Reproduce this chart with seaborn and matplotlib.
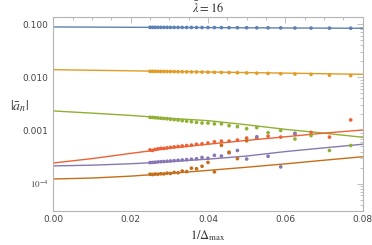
import numpy as np
import pandas as pd
import matplotlib
matplotlib.use("Agg")
import matplotlib.pyplot as plt
import matplotlib.ticker as mticker
import seaborn as sns

# 1/Delta_max for Delta_max = 40 ... 13
delta_max = [40, 39, 38, 37, 36, 35, 34, 33, 32, 31, 30, 29, 28, 27, 26,
             25, 24, 23, 22, 21, 20, 19, 18, 17, 16, 15, 14, 13]

nan = np.nan
a1_pts = [0.0875, 0.0875, 0.0874, 0.0874, 0.0874, 0.0873, 0.0873, 0.0872, 0.0872, 0.0871,
          0.0871, 0.0870, 0.0870, 0.0869, 0.0868, 0.0867, 0.0866, 0.0865, 0.0864, 0.0862,
          0.0860, 0.0858, 0.0856, 0.0854, 0.0851, 0.0848, 0.0845, 0.0842]
a2_pts = [0.01300, 0.01298, 0.01296, 0.01294, 0.01292, 0.01290, 0.01287, 0.01284, 0.01281, 0.01278,
          0.01274, 0.01270, 0.01266, 0.01262, 0.01257, 0.01251, 0.01245, 0.01238, 0.01230, 0.01222,
          0.01212, 0.01200, 0.01187, 0.01172, 0.01155, 0.01138, 0.01100, 0.01080]
a3_pts = [0.00177, 0.00176, 0.00174, 0.00172, 0.00170, 0.00168, 0.00166, 0.00163, 0.00160, 0.00157,
          0.00153, 0.00150, 0.00146, 0.00142, 0.00138, 0.00138, 0.00133, 0.00133, 0.00123, 0.00118,
          0.00108, 0.00113, 0.00091, 0.00100, 0.00069, 0.00080, 0.00042, 0.00052]
a4_pts = [0.00043, 0.00042, 0.00044, 0.00045, 0.00046, 0.00046, 0.00047, 0.00048, 0.00049, 0.00050,
          0.00051, 0.00052, 0.00053, 0.00055, 0.00056, 0.00058, 0.00061, 0.00063, 0.00063, 0.00066,
          0.00072, 0.00072, 0.00078, 0.00075, 0.00086, 0.00092, 0.00075, 0.00158]
a5_pts = [0.000248, 0.000250, 0.000252, 0.000255, 0.000258, 0.000260, 0.000263, 0.000266, 0.000270, 0.000274,
          0.000278, 0.000282, 0.000287, 0.000293, 0.000310, 0.000300, 0.000340, 0.000330, 0.000380, 0.000420,
          0.000290, 0.000760, 0.000326, 0.000206, 0.000885, nan, nan, nan]
a6_pts = [0.000150, 0.000148, 0.000151, 0.000150, 0.000153, 0.000152, 0.000157, 0.000155, 0.000162, 0.000160,
          0.000172, 0.000168, 0.000195, 0.000190, 0.000212, 0.000250, 0.000166, 0.000525, 0.000390, 0.000295,
          0.000640, nan, nan, nan, nan, nan, nan, nan]

# fitted curves read at x = 0, 0.01, ..., 0.08
fit_x = [0.0, 0.01, 0.02, 0.03, 0.04, 0.05, 0.06, 0.07, 0.08]
a1_fit = [0.0890, 0.0884, 0.0877, 0.0871, 0.0865, 0.0858, 0.0852, 0.0846, 0.0840]
a2_fit = [0.01396, 0.01361, 0.01328, 0.01295, 0.01263, 0.01231, 0.01201, 0.01171, 0.01142]
a3_fit = [0.00233, 0.00212, 0.00192, 0.00170, 0.00153, 0.00128, 0.00105, 0.00089, 0.000745]
a4_fit = [0.000244, 0.000295, 0.00037, 0.00046, 0.00055, 0.00065, 0.00076, 0.00089, 0.00102]
a5_fit = [0.000215, 0.000222, 0.000236, 0.000258, 0.000288, 0.00033, 0.00040, 0.00047, 0.00055]
a6_fit = [0.000122, 0.000127, 0.000138, 0.000155, 0.000177, 0.000203, 0.000235, 0.000275, 0.00032]

names = ["n1", "n2", "n3", "n4", "n5", "n6"]
colors = ["#5E81B5", "#E19C24", "#8FB032", "#EB6235", "#8778B3", "#C56E1A"]
all_pts = [a1_pts, a2_pts, a3_pts, a4_pts, a5_pts, a6_pts]
all_fit = [a1_fit, a2_fit, a3_fit, a4_fit, a5_fit, a6_fit]

inv_delta = [1.0 / d for d in delta_max]
pts = pd.concat([pd.DataFrame({"x": inv_delta, "y": p, "n": nm})
                 for p, nm in zip(all_pts, names)]).dropna()
fits = pd.concat([pd.DataFrame({"x": fit_x, "y": f, "n": nm})
                  for f, nm in zip(all_fit, names)])
palette = dict(zip(names, colors))

sns.set_style("white")
plt.rcParams["mathtext.fontset"] = "stix"
fig = plt.figure(figsize=(3.72, 2.45), dpi=100)
ax = fig.add_axes([0.1434, 0.139, 0.8313, 0.7916])

sns.lineplot(data=fits, x="x", y="y", hue="n", palette=palette, ax=ax,
             linewidth=1.0, legend=False, sort=True)
sns.scatterplot(data=pts, x="x", y="y", hue="n", palette=palette, ax=ax,
                s=7, linewidth=0, legend=False, zorder=3)

ax.set_yscale("log")
ax.set_xlim(0, 0.08)
ax.set_ylim(3.05e-5, 0.137)

frame_col = "#b4b4b4"
for sp in ax.spines.values():
    sp.set_color(frame_col)
    sp.set_linewidth(0.8)

ax.xaxis.set_major_locator(mticker.FixedLocator([0, 0.02, 0.04, 0.06, 0.08]))
ax.xaxis.set_minor_locator(mticker.MultipleLocator(0.005))
ax.xaxis.set_major_formatter(mticker.FixedFormatter(["0.00", "0.02", "0.04", "0.06", "0.08"]))
ax.yaxis.set_major_locator(mticker.FixedLocator([1e-4, 1e-3, 1e-2, 1e-1]))
ax.yaxis.set_major_formatter(mticker.FixedFormatter(["$10^{-4}$", "0.001", "0.010", "0.100"]))
ax.yaxis.set_minor_locator(mticker.LogLocator(base=10, subs=np.arange(2, 10)))
ax.yaxis.set_minor_formatter(mticker.NullFormatter())

ax.tick_params(which="both", direction="in", top=True, right=True, color=frame_col,
               labelsize=6.5, labelcolor="#444444", width=0.6)
ax.tick_params(which="major", length=4)
ax.tick_params(which="minor", length=2)
ax.tick_params(axis="x", pad=3)

ax.set_xlabel(r"$1/\Delta_{\max}$", fontsize=9, color="#333333", labelpad=3)
ax.set_ylabel(r"$|\bar{a}_n|$", fontsize=10, color="#333333", rotation=0, labelpad=10)
ax.yaxis.set_label_coords(-0.11, 0.5)
ax.set_title(r"$\bar{\lambda} = 16$", fontsize=9, color="#333333", pad=3)

fig.savefig("out.png", dpi=100)
